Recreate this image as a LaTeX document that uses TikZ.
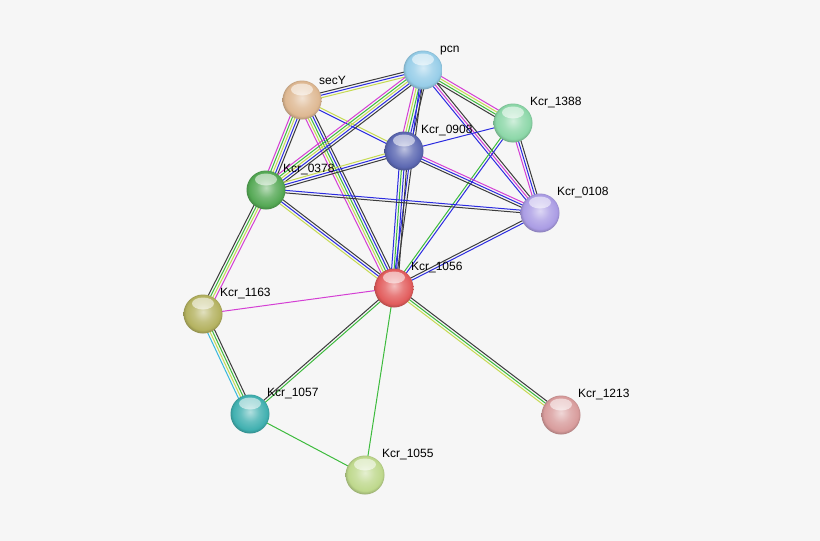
\documentclass[tikz,border=0pt]{standalone}
\usepackage{fontspec}
\setmainfont{Liberation Sans}
\usetikzlibrary{calc}

\pgfdeclarelayer{bg}
\pgfdeclarelayer{edges}
\pgfsetlayers{bg,edges,main}

\definecolor{ecoex}{HTML}{3C3C3C}
\definecolor{eblue}{HTML}{2B2BE0}
\definecolor{etext}{HTML}{C6DA52}
\definecolor{egreen}{HTML}{3DBB3D}
\definecolor{emag}{HTML}{D43FD4}
\definecolor{ecyan}{HTML}{38B8DC}

\colorlet{ballcol}{gray}
\pgfdeclareradialshading[ballcol]{softball}{\pgfpoint{0bp}{3bp}}{%
  color(0bp)=(ballcol!40!white); color(12bp)=(ballcol!80!white);
  color(22bp)=(ballcol); color(28bp)=(ballcol!70!black); color(50bp)=(ballcol!55!black)}

% edge with several parallel lines: from, to, number, colours
\newcommand{\sedge}[4]{%
  \foreach \ec [count=\ei] in {#4} {
    \pgfmathsetmacro{\eoff}{(\ei-(#3+1)/2)*2.5}
    \draw[edgeline, \ec] ($(#1)!\eoff pt!90:(#2)$) -- ($(#2)!\eoff pt!-90:(#1)$);
  }
}

\begin{document}
\begin{tikzpicture}[x=1pt, y=-1pt,
    edgeline/.style={line width=1pt},
    prot/.style={circle, minimum size=39pt, inner sep=0pt,
      /utils/exec={\colorlet{ballcol}{#1}}, shading=softball,
      path picture={\fill[white, opacity=0.55]
        ($(path picture bounding box.north)+(0pt,-9pt)$) ellipse (11pt and 6pt);}},
    lbl/.style={font=\fontsize{12}{14}\selectfont, inner sep=1pt, xshift=2pt}]
  \begin{pgfonlayer}{bg}
    \fill[gray!7] (0,0) rectangle (820,541);
  \end{pgfonlayer}
  \useasboundingbox (0,0) rectangle (820,541);

  \node[prot={rgb,255:red,150;green,205;blue,232}, label={[lbl]45:pcn}] (pcn) at (423,70) {};
  \node[prot={rgb,255:red,222;green,184;blue,146}, label={[lbl]45:secY}] (secY) at (302,100) {};
  \node[prot={rgb,255:red,140;green,215;blue,168}, label={[lbl]45:Kcr\_1388}] (k1388) at (513,123) {};
  \node[prot={rgb,255:red,92;green,104;blue,178}, label={[lbl]45:Kcr\_0908}] (k0908) at (404,151) {};
  \node[prot={rgb,255:red,84;green,168;blue,84}, label={[lbl]45:Kcr\_0378}] (k0378) at (266,190) {};
  \node[prot={rgb,255:red,170;green,156;blue,228}, label={[lbl]45:Kcr\_0108}] (k0108) at (540,213) {};
  \node[prot={rgb,255:red,226;green,92;blue,92}, label={[lbl]45:Kcr\_1056}] (k1056) at (394,288) {};
  \node[prot={rgb,255:red,180;green,178;blue,96}, label={[lbl]45:Kcr\_1163}] (k1163) at (203,314) {};
  \node[prot={rgb,255:red,64;green,176;blue,176}, label={[lbl]45:Kcr\_1057}] (k1057) at (250,414) {};
  \node[prot={rgb,255:red,216;green,156;blue,156}, label={[lbl]45:Kcr\_1213}] (k1213) at (561,415) {};
  \node[prot={rgb,255:red,190;green,216;blue,140}, label={[lbl]45:Kcr\_1055}] (k1055) at (365,475) {};

  \begin{pgfonlayer}{edges}
    \sedge{pcn}{secY}{3}{ecoex,eblue,etext}
    \sedge{secY}{k0378}{5}{emag,egreen,etext,eblue,ecoex}
    \sedge{secY}{k0908}{2}{eblue,etext}
    \sedge{secY}{k1056}{5}{emag,etext,egreen,eblue,ecoex}
    \sedge{pcn}{k0378}{5}{emag,egreen,etext,eblue,ecoex}
    \sedge{pcn}{k0908}{5}{emag,etext,egreen,eblue,ecoex}
    \sedge{pcn}{k1388}{4}{ecoex,egreen,etext,emag}
    \sedge{pcn}{k0108}{3}{eblue,emag,ecoex}
    \sedge{pcn}{k1056}{2}{eblue,ecoex}
    \sedge{k1388}{k0908}{1}{eblue}
    \sedge{k1388}{k0108}{3}{emag,eblue,ecoex}
    \sedge{k1388}{k1056}{2}{egreen,eblue}
    \sedge{k0908}{k0108}{3}{ecoex,eblue,emag}
    \sedge{k0908}{k0378}{3}{etext,eblue,ecoex}
    \sedge{k0908}{k1056}{4}{eblue,egreen,eblue,ecoex}
    \sedge{k0378}{k0108}{2}{ecoex,eblue}
    \sedge{k0378}{k1056}{3}{etext,eblue,ecoex}
    \sedge{k0378}{k1163}{4}{ecoex,egreen,etext,emag}
    \sedge{k0108}{k1056}{2}{ecoex,eblue}
    \sedge{k1056}{k1163}{1}{emag}
    \sedge{k1056}{k1057}{2}{ecoex,egreen}
    \sedge{k1056}{k1055}{1}{egreen}
    \sedge{k1056}{k1213}{3}{etext,egreen,ecoex}
    \sedge{k1163}{k1057}{4}{ecyan,etext,egreen,ecoex}
    \sedge{k1057}{k1055}{1}{egreen}
  \end{pgfonlayer}
\end{tikzpicture}
\end{document}
